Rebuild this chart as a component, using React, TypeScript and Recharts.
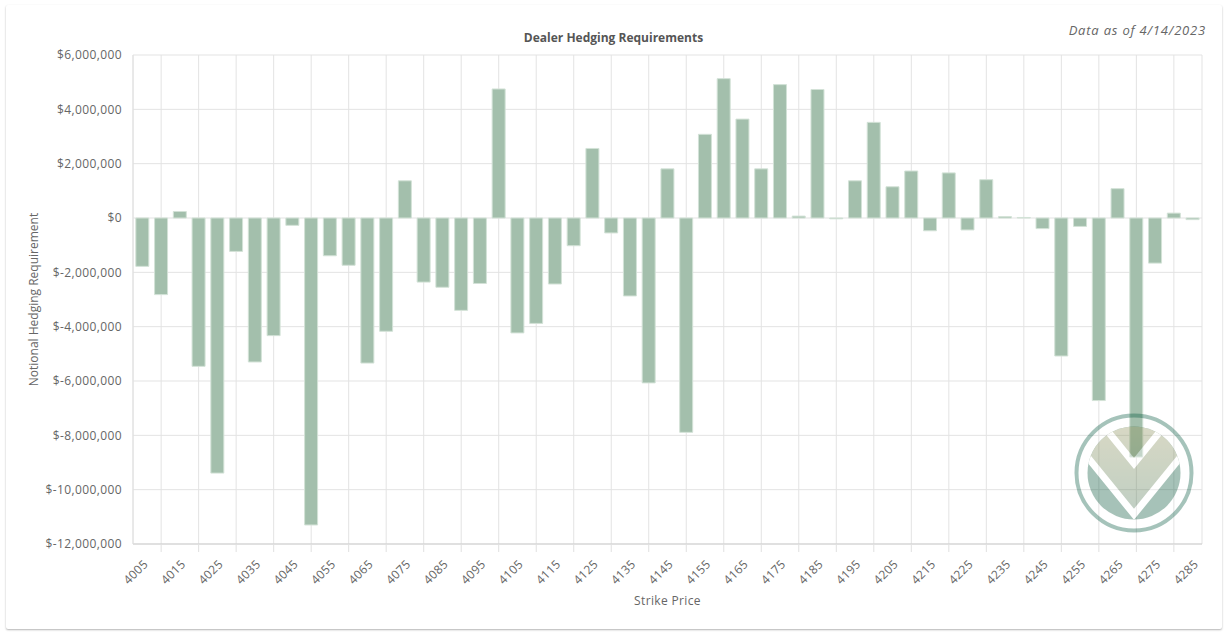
import React from "react";
import { BarChart, Bar, XAxis, YAxis, CartesianGrid } from "recharts";

const strikes = [
  4005, 4010, 4015, 4020, 4025, 4030, 4035, 4040, 4045, 4050,
  4055, 4060, 4065, 4070, 4075, 4080, 4085, 4090, 4095, 4100,
  4105, 4110, 4115, 4120, 4125, 4130, 4135, 4140, 4145, 4150,
  4155, 4160, 4165, 4170, 4175, 4180, 4185, 4190, 4195, 4200,
  4205, 4210, 4215, 4220, 4225, 4230, 4235, 4240, 4245, 4250,
  4255, 4260, 4265, 4270, 4275, 4280, 4285,
];

const hedging = [
  -1780000, -2820000, 240000, -5460000, -9390000, -1230000, -5300000, -4330000, -270000, -11300000,
  -1390000, -1740000, -5340000, -4170000, 1370000, -2360000, -2550000, -3400000, -2410000, 4750000,
  -4230000, -3880000, -2430000, -1020000, 2560000, -550000, -2870000, -6070000, 1810000, -7890000,
  3080000, 5130000, 3640000, 1810000, 4910000, 70000, 4730000, -30000, 1370000, 3520000,
  1150000, 1730000, -470000, 1660000, -440000, 1410000, 50000, 20000, -390000, -5080000,
  -310000, -6720000, 1080000, -8800000, -1660000, 180000, -60000,
];

// gridlines sit between the labelled strikes (4010, 4020, ...)
const gridStrikes = [
  4010, 4020, 4030, 4040, 4050, 4060, 4070, 4080, 4090, 4100,
  4110, 4120, 4130, 4140, 4150, 4160, 4170, 4180, 4190, 4200,
  4210, 4220, 4230, 4240, 4250, 4260, 4270, 4280,
];

const yTicks = [-12000000, -10000000, -8000000, -6000000, -4000000, -2000000, 0, 2000000, 4000000, 6000000];

const data = strikes.map((s, i) => ({ strike: s, value: hedging[i] }));

const FONT = '"Open Sans", sans-serif';
const TEXT = "#666";

function money(v: number) {
  const s = Math.abs(v).toLocaleString("en-US");
  return v < 0 ? `$-${s}` : `$${s}`;
}

function StrikeTick({ x, y, payload, index }: any) {
  if (index % 2 === 1) {
    return <line x1={x} y1={y} x2={x} y2={y + 8} stroke="#e0e0e0" />;
  }
  return (
    <g transform={`translate(${x + 3.5},${y + 18})`}>
      <text textAnchor="end" dy={4} transform="rotate(-45)" fill={TEXT} fontSize={12} fontFamily={FONT} letterSpacing={0.3}>
        {payload.value}
      </text>
    </g>
  );
}

function XLabel({ viewBox }: any) {
  return (
    <text x={viewBox.x + viewBox.width / 2} y={viewBox.y + 61} textAnchor="middle" fill={TEXT} fontSize={12} fontFamily={FONT} letterSpacing={0.35}>
      Strike Price
    </text>
  );
}

function YLabel({ viewBox }: any) {
  const cx = viewBox.x + 4.5;
  const cy = viewBox.y + viewBox.height / 2;
  return (
    <text transform={`translate(${cx},${cy}) rotate(-90)`} textAnchor="middle" fill={TEXT} fontSize={12} fontFamily={FONT}>
      Notional Hedging Requirement
    </text>
  );
}

function Logo() {
  return (
    <svg width={130} height={130} viewBox="-65 -65 130 130" style={{ position: "absolute", left: 1069, top: 408, pointerEvents: "none" }}>
      <defs>
        <clipPath id="disk">
          <circle r={46.5} />
        </clipPath>
        <linearGradient id="band" x1="0" y1="-47" x2="0" y2="40" gradientUnits="userSpaceOnUse">
          <stop offset="0" stopColor="rgb(144,146,89)" />
          <stop offset="1" stopColor="rgb(75,118,85)" />
        </linearGradient>
      </defs>
      <g opacity={0.35}>
        <circle r={57.5} fill="none" stroke="rgb(0,86,61)" strokeWidth={4} />
        <g clipPath="url(#disk)">
          <rect x={-50} y={-50} width={100} height={100} fill="rgb(4,84,55)" />
          <polygon points="-75,-50.9 0,41.3 75,-50.9 75,-80 -75,-80" fill="url(#band)" />
          <polyline points="-75,-50.9 0,41.3 75,-50.9" fill="none" stroke="#fff" strokeWidth={7} />
          <polyline points="-60,-83.3 0,-9.5 60,-83.3" fill="none" stroke="#fff" strokeWidth={7} />
        </g>
      </g>
    </svg>
  );
}

export default function App() {
  return (
    <div style={{ position: "relative", width: 1227, height: 636, background: "#fff", fontFamily: FONT }}>
      <style>{"body{margin:0}"}</style>
      <div
        style={{
          position: "absolute",
          left: 6,
          top: 5,
          width: 1216,
          height: 624,
          background: "#fff",
          borderRadius: 2,
          boxShadow: "0 1px 2px rgba(0,0,0,0.3)",
        }}
      />
      <div style={{ position: "absolute", left: 0, width: 1227, top: 31, textAlign: "center", fontSize: 12, fontWeight: 700, lineHeight: "14px", color: "#555" }}>
        Dealer Hedging Requirements
      </div>
      <div style={{ position: "absolute", right: 21, top: 22, fontSize: 13, fontStyle: "italic", lineHeight: "16px", color: TEXT, letterSpacing: 0.8 }}>
        Data as of 4/14/2023
      </div>
      <div style={{ position: "absolute", left: 0, top: 0 }}>
        <BarChart width={1227} height={636} data={data} margin={{ top: 55, right: 25, left: 33, bottom: 0 }} barCategoryGap="15%">
          <CartesianGrid stroke="#e3e3e3" xAxisId="grid" />
          <XAxis
            dataKey="strike"
            interval={0}
            tickLine={false}
            tickSize={0}
            tickMargin={0}
            axisLine={{ stroke: "#cfcfcf" }}
            tick={<StrikeTick />}
            height={92}
            label={XLabel}
          />
          <XAxis xAxisId="grid" dataKey="strike" ticks={gridStrikes} hide />
          <YAxis
            domain={[-12000000, 6000000]}
            ticks={yTicks}
            tickFormatter={money}
            width={100}
            tickLine={false}
            tickSize={0}
            tickMargin={11}
            axisLine={{ stroke: "#e0e0e0" }}
            tick={{ fill: TEXT, fontSize: 12, fontFamily: FONT, letterSpacing: 0.4 }}
            label={YLabel}
          />
          <Bar dataKey="value" fill="#a3bfac" stroke="#d3e2d7" strokeWidth={1} isAnimationActive={false} />
        </BarChart>
      </div>
      <Logo />
    </div>
  );
}
